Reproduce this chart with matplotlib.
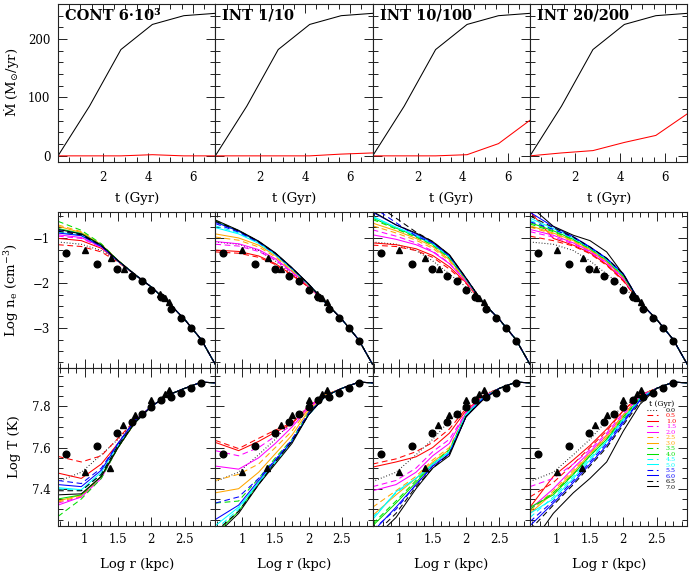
import matplotlib
matplotlib.use('Agg')
import matplotlib.pyplot as plt
from matplotlib.ticker import MultipleLocator, NullFormatter

plt.rcParams['font.family'] = 'DejaVu Serif'
plt.rcParams['mathtext.fontset'] = 'dejavuserif'
plt.rcParams['axes.unicode_minus'] = True

# ---- data ----
models = ['CONT 6\u00b710\u00b3', 'INT 1/10', 'INT 10/100', 'INT 20/200']

t_gyr = [0.0, 1.4, 2.8, 4.2, 5.6, 7.0]
mdot_black = [0, 85, 182, 225, 240, 244]
mdot_red = [[0, 0, 0, 2, 0, 0],
            [0, 0, 0, 0, 3, 5],
            [0, 0, 0, 2, 21, 61],
            [0, 5, 9, 23, 35, 72]]

times = ['0.0', '0.5', '1.0', '1.5', '2.0', '2.5', '3.0', '3.5',
         '4.0', '4.5', '5.0', '5.5', '6.0', '6.5', '7.0']
colors = ['k', 'red', 'red', 'magenta', 'magenta', 'orange', 'orange',
          '#00e000', '#00e000', 'cyan', 'cyan', 'blue', 'blue', 'k', 'k']
styles = ['dot', 'dash', 'solid', 'dash', 'solid', 'dash', 'solid', 'dash',
          'solid', 'dash', 'solid', 'dash', 'solid', 'dash', 'solid']

# observed points (same in every column)
obs_r_circ = [0.72, 1.19, 1.49, 1.71, 1.86, 2.0, 2.14, 2.30, 2.45, 2.60, 2.75]
obs_ne_circ = [-1.33, -1.56, -1.69, -1.83, -1.95, -2.14, -2.30, -2.57, -2.76, -3.0, -3.28]
obs_T_circ = [7.568, 7.608, 7.672, 7.723, 7.763, 7.795, 7.83, 7.848, 7.867, 7.888, 7.915]
obs_r_tri_ne = [1.0, 1.39, 1.59, 2.13, 2.2, 2.27]
obs_ne_tri = [-1.25, -1.44, -1.69, -2.24, -2.33, -2.41]
obs_r_tri_T = [1.0, 1.38, 1.58, 1.75, 2.0, 2.2, 2.27]
obs_T_tri = [7.48, 7.50, 7.712, 7.757, 7.83, 7.86, 7.878]

# electron density profiles
r_ne = [0.6, 0.95, 1.25, 1.5, 1.75, 2.0]
r_ne_tail = [2.25, 2.5, 2.75, 2.96]
ne_tail = [-2.42, -2.80, -3.25, -3.80]
ne_cont = [[-1.08, -1.13, -1.27, -1.50, -1.79, -2.08],
           [-1.14, -1.18, -1.30, -1.53, -1.80, -2.08],
           [-1.00, -1.05, -1.22, -1.50, -1.80, -2.08],
           [-0.95, -1.00, -1.20, -1.50, -1.80, -2.08],
           [-0.92, -0.98, -1.19, -1.50, -1.80, -2.08],
           [-0.70, -0.85, -1.13, -1.49, -1.80, -2.08],
           [-0.73, -0.87, -1.14, -1.49, -1.80, -2.08],
           [-0.62, -0.82, -1.12, -1.49, -1.80, -2.08],
           [-0.78, -0.89, -1.15, -1.49, -1.80, -2.08],
           [-0.80, -0.90, -1.16, -1.50, -1.80, -2.08],
           [-0.86, -0.93, -1.17, -1.50, -1.80, -2.08],
           [-0.82, -0.91, -1.16, -1.50, -1.80, -2.08],
           [-0.88, -0.94, -1.18, -1.50, -1.80, -2.08],
           [-0.84, -0.92, -1.16, -1.50, -1.80, -2.08],
           [-0.80, -0.90, -1.15, -1.49, -1.80, -2.08]]
ne_int1 = [[-1.08, -1.13, -1.27, -1.50, -1.79, -2.08],
           [-1.30, -1.33, -1.42, -1.58, -1.82, -2.08],
           [-1.26, -1.29, -1.39, -1.56, -1.81, -2.08],
           [-1.13, -1.17, -1.29, -1.48, -1.76, -2.07],
           [-1.07, -1.12, -1.25, -1.45, -1.74, -2.06],
           [-0.97, -1.04, -1.19, -1.41, -1.72, -2.05],
           [-0.90, -0.99, -1.15, -1.38, -1.70, -2.04],
           [-0.60, -0.83, -1.07, -1.33, -1.66, -2.02],
           [-0.62, -0.84, -1.08, -1.34, -1.67, -2.02],
           [-0.72, -0.88, -1.10, -1.35, -1.67, -2.02],
           [-0.76, -0.90, -1.11, -1.36, -1.68, -2.03],
           [-0.67, -0.86, -1.09, -1.34, -1.66, -2.02],
           [-0.64, -0.84, -1.07, -1.33, -1.66, -2.02],
           [-0.62, -0.83, -1.07, -1.33, -1.66, -2.02],
           [-0.59, -0.82, -1.06, -1.32, -1.65, -2.01]]
ne_int10 = [[-1.08, -1.13, -1.27, -1.50, -1.79, -2.08],
            [-1.15, -1.18, -1.27, -1.42, -1.68, -2.00],
            [-1.10, -1.14, -1.23, -1.38, -1.63, -1.98],
            [-0.81, -0.95, -1.10, -1.28, -1.55, -1.95],
            [-0.92, -1.02, -1.14, -1.30, -1.56, -1.95],
            [-0.72, -0.88, -1.04, -1.22, -1.50, -1.93],
            [-0.66, -0.83, -1.00, -1.18, -1.47, -1.92],
            [-0.58, -0.79, -0.97, -1.15, -1.44, -1.91],
            [-0.55, -0.77, -0.95, -1.13, -1.42, -1.90],
            [-0.53, -0.76, -0.94, -1.12, -1.41, -1.90],
            [-0.51, -0.75, -0.93, -1.11, -1.40, -1.90],
            [-0.30, -0.65, -0.95, -1.10, -1.39, -1.89],
            [-0.42, -0.70, -0.90, -1.09, -1.38, -1.89],
            [-0.20, -0.55, -0.86, -1.07, -1.37, -1.88],
            [-0.40, -0.70, -0.88, -1.07, -1.36, -1.88]]
ne_int20 = [[-1.08, -1.13, -1.27, -1.50, -1.79, -2.08],
            [-0.95, -1.05, -1.17, -1.34, -1.60, -1.95],
            [-0.40, -1.00, -1.15, -1.32, -1.58, -1.93],
            [-0.85, -0.97, -1.12, -1.30, -1.55, -1.90],
            [-0.80, -0.93, -1.10, -1.28, -1.53, -1.88],
            [-0.75, -0.90, -1.07, -1.26, -1.51, -1.86],
            [-0.72, -0.88, -1.05, -1.25, -1.50, -1.85],
            [-0.68, -0.85, -1.03, -1.23, -1.49, -1.84],
            [-0.65, -0.83, -1.02, -1.22, -1.48, -1.83],
            [-0.60, -0.80, -1.00, -1.21, -1.47, -1.82],
            [-0.55, -0.78, -0.99, -1.20, -1.46, -1.81],
            [-0.63, -0.80, -0.98, -1.20, -1.45, -1.80],
            [-0.42, -0.74, -0.96, -1.19, -1.44, -1.78],
            [-0.50, -0.76, -0.97, -1.19, -1.44, -1.79],
            [-0.28, -0.73, -0.93, -1.05, -1.30, -1.80]]

# temperature profiles
r_T = [0.6, 0.95, 1.25, 1.5, 1.75, 2.0, 2.25]
r_T_tail = [2.5, 2.75, 2.96]
T_tail = [7.888, 7.918, 7.915]
T_cont = [[7.435, 7.48, 7.565, 7.64, 7.73, 7.80, 7.855],
          [7.557, 7.53, 7.56, 7.645, 7.73, 7.80, 7.855],
          [7.476, 7.45, 7.52, 7.62, 7.73, 7.80, 7.855],
          [7.33, 7.36, 7.46, 7.60, 7.72, 7.80, 7.855],
          [7.32, 7.36, 7.45, 7.60, 7.72, 7.80, 7.855],
          [7.335, 7.365, 7.46, 7.60, 7.72, 7.80, 7.855],
          [7.34, 7.37, 7.46, 7.60, 7.72, 7.80, 7.855],
          [7.265, 7.35, 7.45, 7.60, 7.72, 7.80, 7.855],
          [7.35, 7.37, 7.46, 7.60, 7.72, 7.80, 7.855],
          [7.40, 7.39, 7.47, 7.61, 7.72, 7.80, 7.855],
          [7.405, 7.395, 7.48, 7.61, 7.72, 7.80, 7.855],
          [7.44, 7.425, 7.50, 7.62, 7.73, 7.80, 7.855],
          [7.42, 7.41, 7.49, 7.62, 7.73, 7.80, 7.855],
          [7.39, 7.39, 7.47, 7.61, 7.72, 7.80, 7.855],
          [7.37, 7.375, 7.46, 7.60, 7.72, 7.80, 7.855]]
T_int1 = [[7.435, 7.48, 7.565, 7.64, 7.73, 7.80, 7.855],
          [7.635, 7.595, 7.645, 7.685, 7.72, 7.80, 7.855],
          [7.625, 7.585, 7.63, 7.675, 7.715, 7.80, 7.855],
          [7.585, 7.56, 7.60, 7.655, 7.71, 7.80, 7.855],
          [7.51, 7.495, 7.55, 7.62, 7.70, 7.79, 7.855],
          [7.44, 7.47, 7.52, 7.60, 7.68, 7.79, 7.855],
          [7.38, 7.40, 7.48, 7.57, 7.66, 7.78, 7.855],
          [7.33, 7.34, 7.45, 7.55, 7.64, 7.77, 7.85],
          [7.18, 7.29, 7.43, 7.53, 7.63, 7.76, 7.85],
          [7.20, 7.30, 7.43, 7.53, 7.63, 7.76, 7.85],
          [7.22, 7.31, 7.43, 7.53, 7.63, 7.76, 7.85],
          [7.33, 7.36, 7.45, 7.54, 7.64, 7.77, 7.85],
          [7.25, 7.32, 7.44, 7.54, 7.63, 7.76, 7.85],
          [7.19, 7.29, 7.42, 7.53, 7.63, 7.76, 7.85],
          [7.17, 7.28, 7.42, 7.52, 7.62, 7.76, 7.85]]
T_int10 = [[7.435, 7.48, 7.565, 7.64, 7.73, 7.80, 7.855],
           [7.52, 7.545, 7.58, 7.625, 7.69, 7.79, 7.85],
           [7.505, 7.53, 7.555, 7.60, 7.67, 7.78, 7.85],
           [7.41, 7.44, 7.50, 7.58, 7.64, 7.77, 7.845],
           [7.39, 7.42, 7.48, 7.56, 7.62, 7.77, 7.845],
           [7.31, 7.39, 7.46, 7.54, 7.60, 7.76, 7.84],
           [7.27, 7.37, 7.45, 7.53, 7.59, 7.76, 7.84],
           [7.23, 7.34, 7.44, 7.52, 7.59, 7.76, 7.84],
           [7.22, 7.33, 7.43, 7.52, 7.58, 7.76, 7.84],
           [7.26, 7.38, 7.45, 7.52, 7.58, 7.76, 7.84],
           [7.25, 7.385, 7.45, 7.52, 7.58, 7.76, 7.84],
           [7.20, 7.30, 7.42, 7.51, 7.57, 7.75, 7.835],
           [7.19, 7.31, 7.42, 7.51, 7.57, 7.75, 7.835],
           [7.17, 7.28, 7.41, 7.50, 7.57, 7.75, 7.835],
           [7.15, 7.26, 7.40, 7.50, 7.56, 7.75, 7.83]]
T_int20 = [[7.435, 7.48, 7.565, 7.64, 7.73, 7.80, 7.855],
           [7.36, 7.43, 7.52, 7.60, 7.68, 7.78, 7.855],
           [7.31, 7.46, 7.54, 7.61, 7.69, 7.78, 7.855],
           [7.41, 7.45, 7.52, 7.59, 7.67, 7.77, 7.85],
           [7.30, 7.40, 7.50, 7.58, 7.66, 7.76, 7.85],
           [7.29, 7.39, 7.49, 7.57, 7.66, 7.76, 7.85],
           [7.28, 7.38, 7.48, 7.57, 7.65, 7.75, 7.84],
           [7.30, 7.38, 7.47, 7.56, 7.64, 7.75, 7.84],
           [7.31, 7.37, 7.47, 7.56, 7.64, 7.74, 7.84],
           [7.26, 7.36, 7.46, 7.55, 7.63, 7.74, 7.84],
           [7.28, 7.35, 7.45, 7.54, 7.63, 7.73, 7.83],
           [7.24, 7.34, 7.44, 7.53, 7.62, 7.73, 7.83],
           [7.22, 7.33, 7.43, 7.52, 7.61, 7.72, 7.83],
           [7.20, 7.32, 7.42, 7.51, 7.60, 7.71, 7.82],
           [7.12, 7.28, 7.38, 7.45, 7.53, 7.68, 7.81]]

ne_all = [ne_cont, ne_int1, ne_int10, ne_int20]
T_all = [T_cont, T_int1, T_int10, T_int20]

dash_map = {'dot': (0, (0.8, 2.0)), 'dash': (0, (5.5, 3.5)), 'solid': '-'}

# ---- layout (pixel boxes of the original) ----
W, H = 692.0, 572.0
col_x = [58.0, 215.3, 372.7, 530.0]
col_w = 157.3
row_y = [(4.0, 161.7), (212.3, 368.0), (368.0, 525.7)]

fig = plt.figure(figsize=(6.92, 5.72), dpi=100)
axes = []
for i, (top, bot) in enumerate(row_y):
    row = []
    for j in range(4):
        ax = fig.add_axes([col_x[j] / W, 1 - bot / H, col_w / W, (bot - top) / H])
        ax.tick_params(which='both', direction='in', top=True, right=True,
                       color='#222222', width=0.7, labelsize=8.5)
        ax.tick_params(which='major', length=6.5)
        ax.tick_params(which='minor', length=3.5)
        for s in ax.spines.values():
            s.set_linewidth(0.8)
            s.set_color('#222222')
        row.append(ax)
    axes.append(row)

lw = 0.75
for j in range(4):
    # accretion rate
    ax = axes[0][j]
    ax.plot(t_gyr, mdot_black, color='k', lw=lw)
    ax.plot(t_gyr, mdot_red[j], color='red', lw=lw)
    ax.set_xlim(0, 7)
    ax.set_ylim(-10, 260)
    ax.xaxis.set_minor_locator(MultipleLocator(0.5))
    ax.yaxis.set_major_locator(MultipleLocator(100))
    ax.yaxis.set_minor_locator(MultipleLocator(20))
    ax.set_xticks([2, 4, 6])
    ax.tick_params(axis='x', pad=6.4)
    ax.tick_params(axis='y', pad=5.5)
    ax.set_xlabel('t (Gyr)', fontsize=9.5)
    ax.xaxis.set_label_coords(0.5, -0.195)
    ax.text(0.045, 0.925, models[j], transform=ax.transAxes, fontsize=10.5,
            fontweight='bold', va='center', ha='left')

    # density
    ax = axes[1][j]
    for k in range(len(times)):
        ax.plot(r_ne + r_ne_tail, ne_all[j][k] + ne_tail, color=colors[k],
                ls=dash_map[styles[k]], lw=lw)
    ax.plot(obs_r_circ, obs_ne_circ, 'o', color='k', ms=4.8, ls='none')
    ax.plot(obs_r_tri_ne, obs_ne_tri, '^', color='k', ms=4.0, ls='none')
    ax.set_xlim(0.6, 2.96)
    ax.set_ylim(-3.88, -0.42)
    ax.xaxis.set_major_locator(MultipleLocator(0.5))
    ax.xaxis.set_minor_locator(MultipleLocator(0.125))
    ax.yaxis.set_major_locator(MultipleLocator(1))
    ax.yaxis.set_minor_locator(MultipleLocator(0.25))
    ax.xaxis.set_major_formatter(NullFormatter())
    ax.tick_params(axis='y', pad=5.5)

    # temperature
    ax = axes[2][j]
    for k in range(len(times)):
        ax.plot(r_T + r_T_tail, T_all[j][k] + T_tail, color=colors[k],
                ls=dash_map[styles[k]], lw=lw, label=times[k])
    ax.plot(obs_r_circ, obs_T_circ, 'o', color='k', ms=4.8, ls='none')
    ax.plot(obs_r_tri_T, obs_T_tri, '^', color='k', ms=4.0, ls='none')
    ax.set_xlim(0.6, 2.96)
    ax.set_ylim(7.22, 7.987)
    ax.set_xticks([1, 1.5, 2, 2.5])
    ax.set_xticklabels(['1', '1.5', '2', '2.5'])
    ax.xaxis.set_minor_locator(MultipleLocator(0.125))
    ax.yaxis.set_major_locator(MultipleLocator(0.2))
    ax.yaxis.set_minor_locator(MultipleLocator(0.05))
    ax.tick_params(axis='x', pad=5.0)
    ax.tick_params(axis='y', pad=5.5)
    ax.set_xlabel('Log r (kpc)', fontsize=9.5)
    ax.xaxis.set_label_coords(0.5, -0.205)

    if j > 0:
        for i in range(3):
            axes[i][j].yaxis.set_major_formatter(NullFormatter())

axes[0][0].set_ylabel('\u1e40 (M$_{\\odot}$/yr)', fontsize=9.5)
axes[1][0].set_ylabel(r'Log n$_{\mathrm{e}}$ (cm$^{-3}$)', fontsize=9.5)
axes[2][0].set_ylabel('Log T (K)', fontsize=9.5)
for i in range(3):
    axes[i][0].yaxis.set_label_coords(-0.235, 0.5)

leg = axes[2][3].legend(loc='upper left', bbox_to_anchor=(0.745, 0.80),
                        fontsize=4.6, title='t (Gyr)', title_fontsize=5.5,
                        handlelength=1.7, handletextpad=1.2, labelspacing=0.0,
                        borderpad=0, borderaxespad=0, frameon=False,
                        labelcolor='linecolor')

fig.savefig('out.png', dpi=100)
